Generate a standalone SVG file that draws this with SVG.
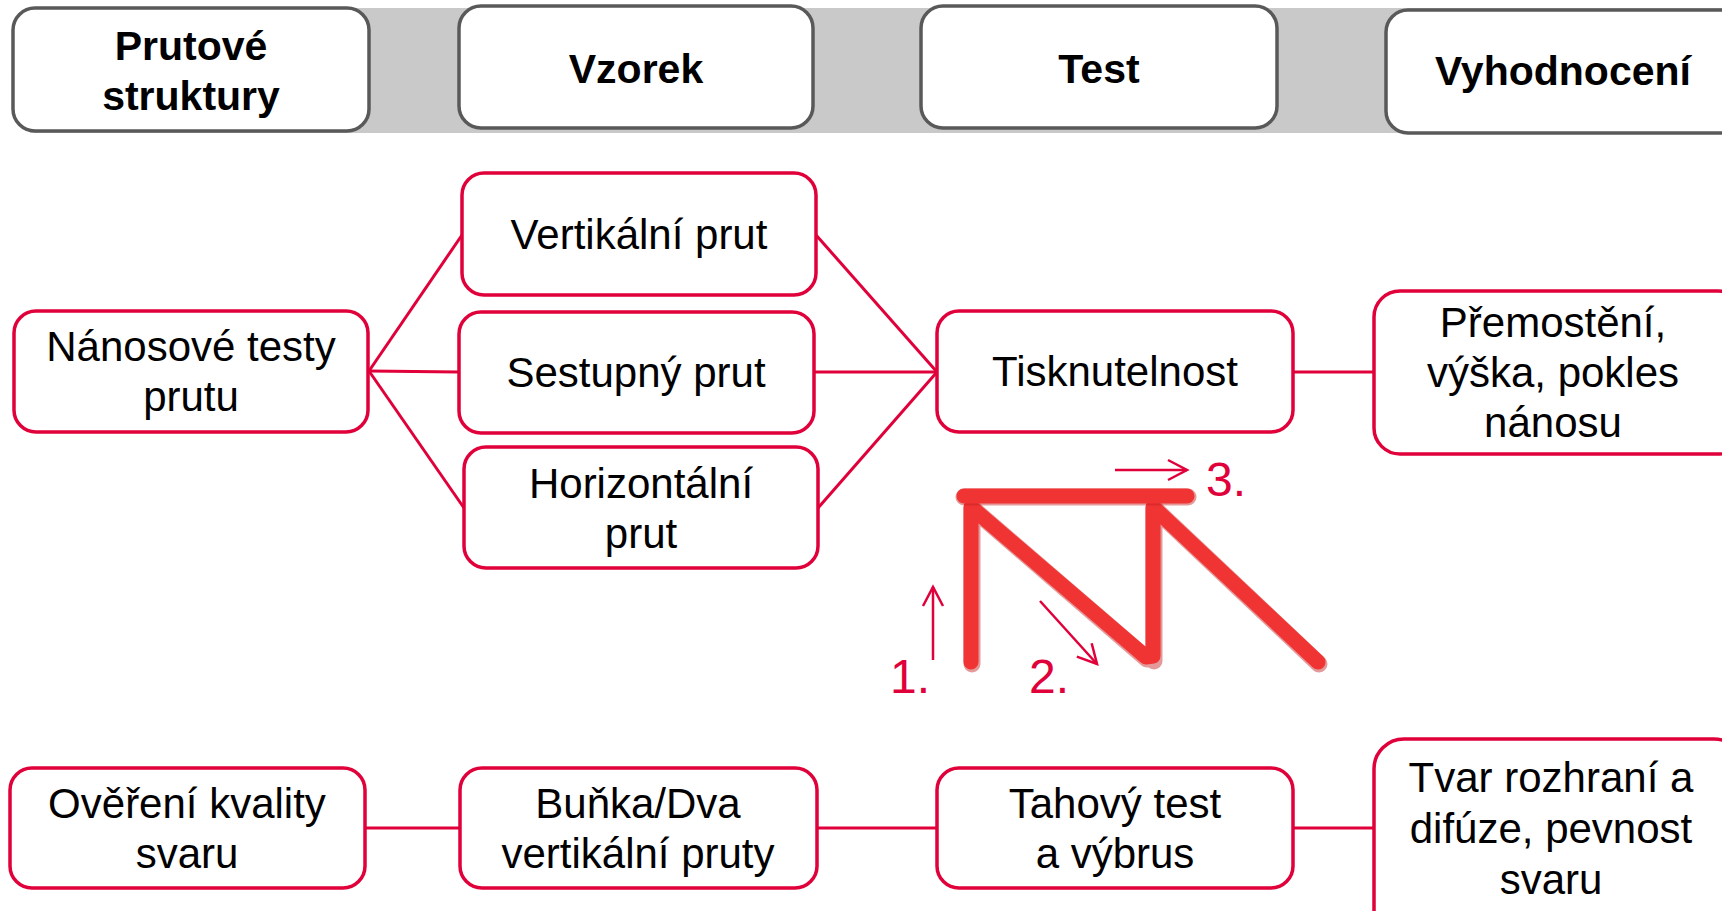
<svg xmlns="http://www.w3.org/2000/svg" width="1722" height="911" viewBox="0 0 1722 911">
<defs>
<style>
.hdr{fill:#fff;stroke:#595959;stroke-width:3.5}
.nd{fill:#fff;stroke:#e0003a;stroke-width:3.5}
.ht{font-family:"Liberation Sans",Arial,sans-serif;font-weight:bold;font-size:41px;fill:#000;text-anchor:middle}
.t{font-family:"Liberation Sans",Arial,sans-serif;font-size:42px;fill:#000;text-anchor:middle}
.num{font-family:"Liberation Sans",Arial,sans-serif;font-size:48px;fill:#e0003a}
.cn{stroke:#e0003a;stroke-width:3;fill:none}
.ar{stroke:#e0003a;stroke-width:2.5;fill:none}
.bar{stroke:#f03333;stroke-width:15;fill:none;stroke-linecap:round;stroke-linejoin:round}
.barsh{stroke:#c42020;stroke-width:17;fill:none;stroke-linecap:round;stroke-linejoin:round;opacity:0.45}
</style>
<marker id="ah" viewBox="0 0 24 24" refX="21" refY="12" markerWidth="24" markerHeight="24" markerUnits="userSpaceOnUse" orient="auto">
<path d="M2,2 L21,12 L2,22" fill="none" stroke="#e0003a" stroke-width="2.5"/>
</marker>
</defs>
<rect x="0" y="0" width="1722" height="911" fill="#fff"/>
<rect x="30" y="8" width="1692" height="125" fill="#c9c9c9"/>

<g id="h1"><rect class="hdr" x="13" y="8" width="356" height="123" rx="22"/><text class="ht" x="191" y="60">Prutové</text><text class="ht" x="191" y="110">struktury</text></g>
<g id="h2"><rect class="hdr" x="459" y="6" width="354" height="122" rx="22"/><text class="ht" x="636" y="83">Vzorek</text></g>
<g id="h3"><rect class="hdr" x="921" y="6" width="356" height="122" rx="22"/><text class="ht" x="1099" y="83">Test</text></g>
<g id="h4"><rect class="hdr" x="1386" y="10" width="360" height="123" rx="22"/><text class="ht" x="1563" y="85">Vyhodnocení</text></g>

<g id="connectors">
<line class="cn" x1="369" y1="371" x2="462" y2="235"/>
<line class="cn" x1="369" y1="371" x2="459" y2="372"/>
<line class="cn" x1="369" y1="371" x2="464" y2="508"/>
<line class="cn" x1="816" y1="235" x2="937" y2="372"/>
<line class="cn" x1="814" y1="372" x2="937" y2="372"/>
<line class="cn" x1="818" y1="508" x2="937" y2="372"/>
<line class="cn" x1="1293" y1="372" x2="1374" y2="372"/>
<line class="cn" x1="365" y1="828" x2="460" y2="828"/>
<line class="cn" x1="817" y1="828" x2="937" y2="828"/>
<line class="cn" x1="1293" y1="828" x2="1374" y2="828"/>
</g>

<g id="n1"><rect class="nd" x="14" y="311" width="354" height="121" rx="22"/><text class="t" x="191" y="361">Nánosové testy</text><text class="t" x="191" y="411">prutu</text></g>
<g id="n2"><rect class="nd" x="462" y="173" width="354" height="122" rx="22"/><text class="t" x="639" y="249">Vertikální prut</text></g>
<g id="n3"><rect class="nd" x="459" y="312" width="355" height="121" rx="22"/><text class="t" x="636" y="387">Sestupný prut</text></g>
<g id="n4"><rect class="nd" x="464" y="447" width="354" height="121" rx="22"/><text class="t" x="641" y="498">Horizontální</text><text class="t" x="641" y="548">prut</text></g>
<g id="n5"><rect class="nd" x="937" y="311" width="356" height="121" rx="22"/><text class="t" x="1115" y="386">Tisknutelnost</text></g>
<g id="n6"><rect class="nd" x="1374" y="291" width="370" height="163" rx="26"/><text class="t" x="1553" y="337">Přemostění,</text><text class="t" x="1553" y="387">výška, pokles</text><text class="t" x="1553" y="437">nánosu</text></g>

<g id="n7"><rect class="nd" x="10" y="768" width="355" height="120" rx="22"/><text class="t" x="187" y="818">Ověření kvality</text><text class="t" x="187" y="868">svaru</text></g>
<g id="n8"><rect class="nd" x="460" y="768" width="357" height="120" rx="22"/><text class="t" x="638" y="818">Buňka/Dva</text><text class="t" x="638" y="868">vertikální pruty</text></g>
<g id="n9"><rect class="nd" x="937" y="768" width="356" height="120" rx="22"/><text class="t" x="1115" y="818">Tahový test</text><text class="t" x="1115" y="868">a výbrus</text></g>
<g id="n10"><rect class="nd" x="1374" y="739" width="370" height="200" rx="30"/><text class="t" x="1551" y="792">Tvar rozhraní a</text><text class="t" x="1551" y="843">difúze, pevnost</text><text class="t" x="1551" y="894">svaru</text></g>

<g id="truss">
<path class="barsh" d="M972,664 V508 L1147,659 M1154,661 V508 L1319,664"/>
<path class="bar" d="M971,662 V507 L1146,657 L1153,656 V507 L1318,662"/>
<line class="barsh" x1="964" y1="497" x2="1188" y2="497"/>
<line class="bar" x1="964" y1="496" x2="1187" y2="496"/>
<line class="ar" x1="933" y1="660" x2="933" y2="587" marker-end="url(#ah)"/>
<line class="ar" x1="1040" y1="601" x2="1097" y2="664" marker-end="url(#ah)"/>
<line class="ar" x1="1115" y1="470" x2="1187" y2="470" marker-end="url(#ah)"/>
<text class="num" x="890" y="693">1.</text>
<text class="num" x="1029" y="693">2.</text>
<text class="num" x="1206" y="496">3.</text>
</g>
</svg>
